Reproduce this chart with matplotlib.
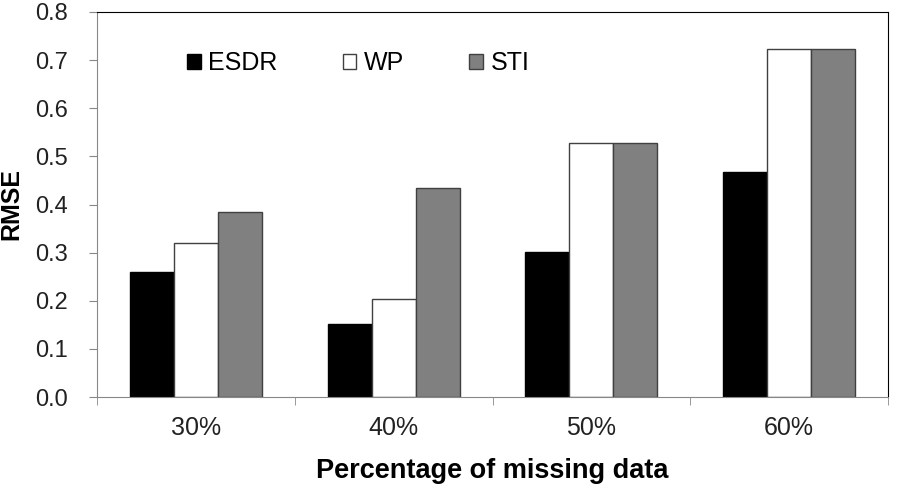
import matplotlib
matplotlib.use("Agg")
import matplotlib.pyplot as plt
import numpy as np

plt.rcParams['font.family'] = ['Liberation Sans', 'DejaVu Sans']

categories = ["30%", "40%", "50%", "60%"]
esdr = [0.260, 0.151, 0.301, 0.468]
wp = [0.321, 0.203, 0.527, 0.724]
sti = [0.385, 0.434, 0.527, 0.724]

fig = plt.figure(figsize=(8.98, 4.91), dpi=100)
ax = fig.add_axes([97 / 898, 1 - 397 / 491, 791 / 898, 385 / 491])

x = np.arange(len(categories))
w = 0.2225
ax.bar(x - w, esdr, w, color="black", edgecolor="black", linewidth=1.0, label="ESDR")
ax.bar(x, wp, w, color="white", edgecolor="#404040", linewidth=1.0, label="WP")
ax.bar(x + w, sti, w, color="#808080", edgecolor="#404040", linewidth=1.0, label="STI")

ax.set_xlim(-0.5, len(categories) - 0.5)
ax.set_ylim(0, 0.8)
yt = np.arange(0, 0.81, 0.1)
ax.set_yticks(yt)
ax.set_yticklabels([f"{v:.1f}" for v in yt])
ax.set_xticks(x)
ax.set_xticklabels(categories)
ax.set_xticks(np.arange(-0.5, len(categories), 1.0), minor=True)
ax.tick_params(axis="x", which="major", length=0, pad=14, labelsize=18, colors="#222222")
ax.tick_params(axis="x", which="minor", length=6, direction="out", color="#888888")
ax.tick_params(axis="y", length=6, direction="out", color="#888888", labelsize=17,
               labelcolor="#222222", pad=15)

ax.spines["left"].set_color("#888888")
ax.spines["bottom"].set_color("#888888")
ax.spines["top"].set_color("black")
ax.spines["right"].set_color("black")

ax.set_ylabel("RMSE", fontsize=18, fontweight="bold", labelpad=8)
ax.set_xlabel("Percentage of missing data", fontsize=19.5, fontweight="bold", labelpad=13)

ax.legend(loc="center left", bbox_to_anchor=((187 - 97) / 791, (397 - 63) / 385),
          ncol=3, frameon=False, borderpad=0, borderaxespad=0,
          fontsize=18, handlelength=0.55, handleheight=0.55, handletextpad=0.3,
          columnspacing=2.6)

fig.savefig("out.png", dpi=100)
